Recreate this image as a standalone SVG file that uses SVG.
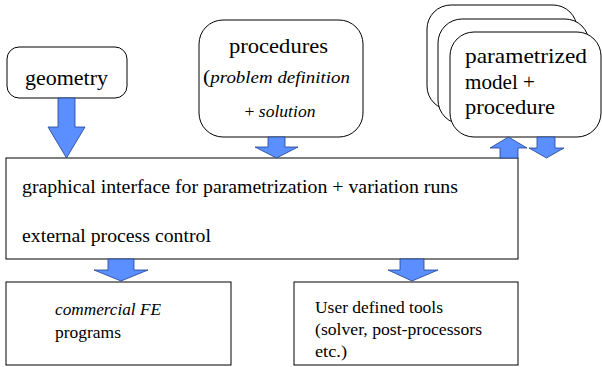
<svg xmlns="http://www.w3.org/2000/svg" width="602" height="367" viewBox="0 0 602 367">
<style>
.box{fill:#fff;stroke:#000;stroke-width:1}
.arr{fill:#5b8fff;stroke:#1f3f8f;stroke-width:0.8;stroke-linejoin:miter}
text{font-family:"Liberation Serif","Times New Roman",serif;fill:#000}
.t22{font-size:22px}
.t19{font-size:19.5px}
.t17{font-size:17.5px}
.t16{font-size:16.5px}
.it{font-style:italic}
</style>
<rect width="602" height="367" fill="#fff"/>
<g id="geometry">
<rect class="box" x="7" y="47" width="120" height="51" rx="12"/>
<text class="t22" x="66.5" y="85" text-anchor="middle" textLength="83" lengthAdjust="spacingAndGlyphs">geometry</text>
</g>
<g id="procedures">
<rect class="box" x="199" y="20" width="164" height="117" rx="24"/>
<text class="t22" x="278.5" y="53" text-anchor="middle" textLength="99" lengthAdjust="spacingAndGlyphs">procedures</text>
<text class="t16" x="203" y="83" textLength="147" lengthAdjust="spacingAndGlyphs"><tspan style="font-size:19px">(</tspan><tspan class="it">problem definition</tspan></text>
<text class="t16" x="280" y="117" text-anchor="middle" textLength="71" lengthAdjust="spacingAndGlyphs">+ <tspan class="it">solution</tspan></text>
</g>
<g id="parametrized">
<rect class="box" x="427" y="5" width="150" height="105" rx="24"/>
<rect class="box" x="438" y="19" width="151" height="105" rx="24"/>
<rect class="box" x="450" y="32" width="151" height="105" rx="24"/>
<text class="t22" x="465" y="63" textLength="122" lengthAdjust="spacingAndGlyphs">parametrized</text>
<text class="t22" x="465" y="89" textLength="70" lengthAdjust="spacingAndGlyphs">model +</text>
<text class="t22" x="465" y="114" textLength="90" lengthAdjust="spacingAndGlyphs">procedure</text>
</g>
<g id="interface">
<rect class="box" x="6" y="158" width="512" height="101"/>
<text class="t19" x="22" y="193" textLength="436" lengthAdjust="spacingAndGlyphs">graphical interface for parametrization + variation runs</text>
<text class="t19" x="22" y="242" textLength="189" lengthAdjust="spacingAndGlyphs">external process control</text>
</g>
<g id="commercial">
<rect class="box" x="6" y="282" width="225" height="83"/>
<text class="t17 it" x="55" y="315" textLength="106" lengthAdjust="spacingAndGlyphs">commercial FE</text>
<text class="t17" x="55" y="338" textLength="66" lengthAdjust="spacingAndGlyphs">programs</text>
</g>
<g id="usertools">
<rect class="box" x="294" y="282" width="224" height="83"/>
<text class="t17" x="315" y="313" textLength="128" lengthAdjust="spacingAndGlyphs">User defined tools</text>
<text class="t17" x="315" y="335" textLength="167" lengthAdjust="spacingAndGlyphs">(solver, post-processors</text>
<text class="t17" x="315" y="357" textLength="32" lengthAdjust="spacingAndGlyphs">etc.)</text>
</g>
<g id="connectors">
<path class="arr" d="M58,98 H75 V127 H85 L66.5,158 L48,127 H58 Z"/>
<path class="arr" d="M268,137 H285 V147 H298 L276.5,158 L255,147 H268 Z"/>
<path class="arr" d="M500,158 H518 V148 H527 L508.5,137 L490,148 H500 Z"/>
<path class="arr" d="M537,137 H555 V148 H564 L546.5,158 L529,148 H537 Z"/>
<path class="arr" d="M108,259 H134 V270 H148 L121,281 L94,270 H108 Z"/>
<path class="arr" d="M400,259 H424 V270 H438 L412,281 L388,270 H400 Z"/>
</g>
</svg>
